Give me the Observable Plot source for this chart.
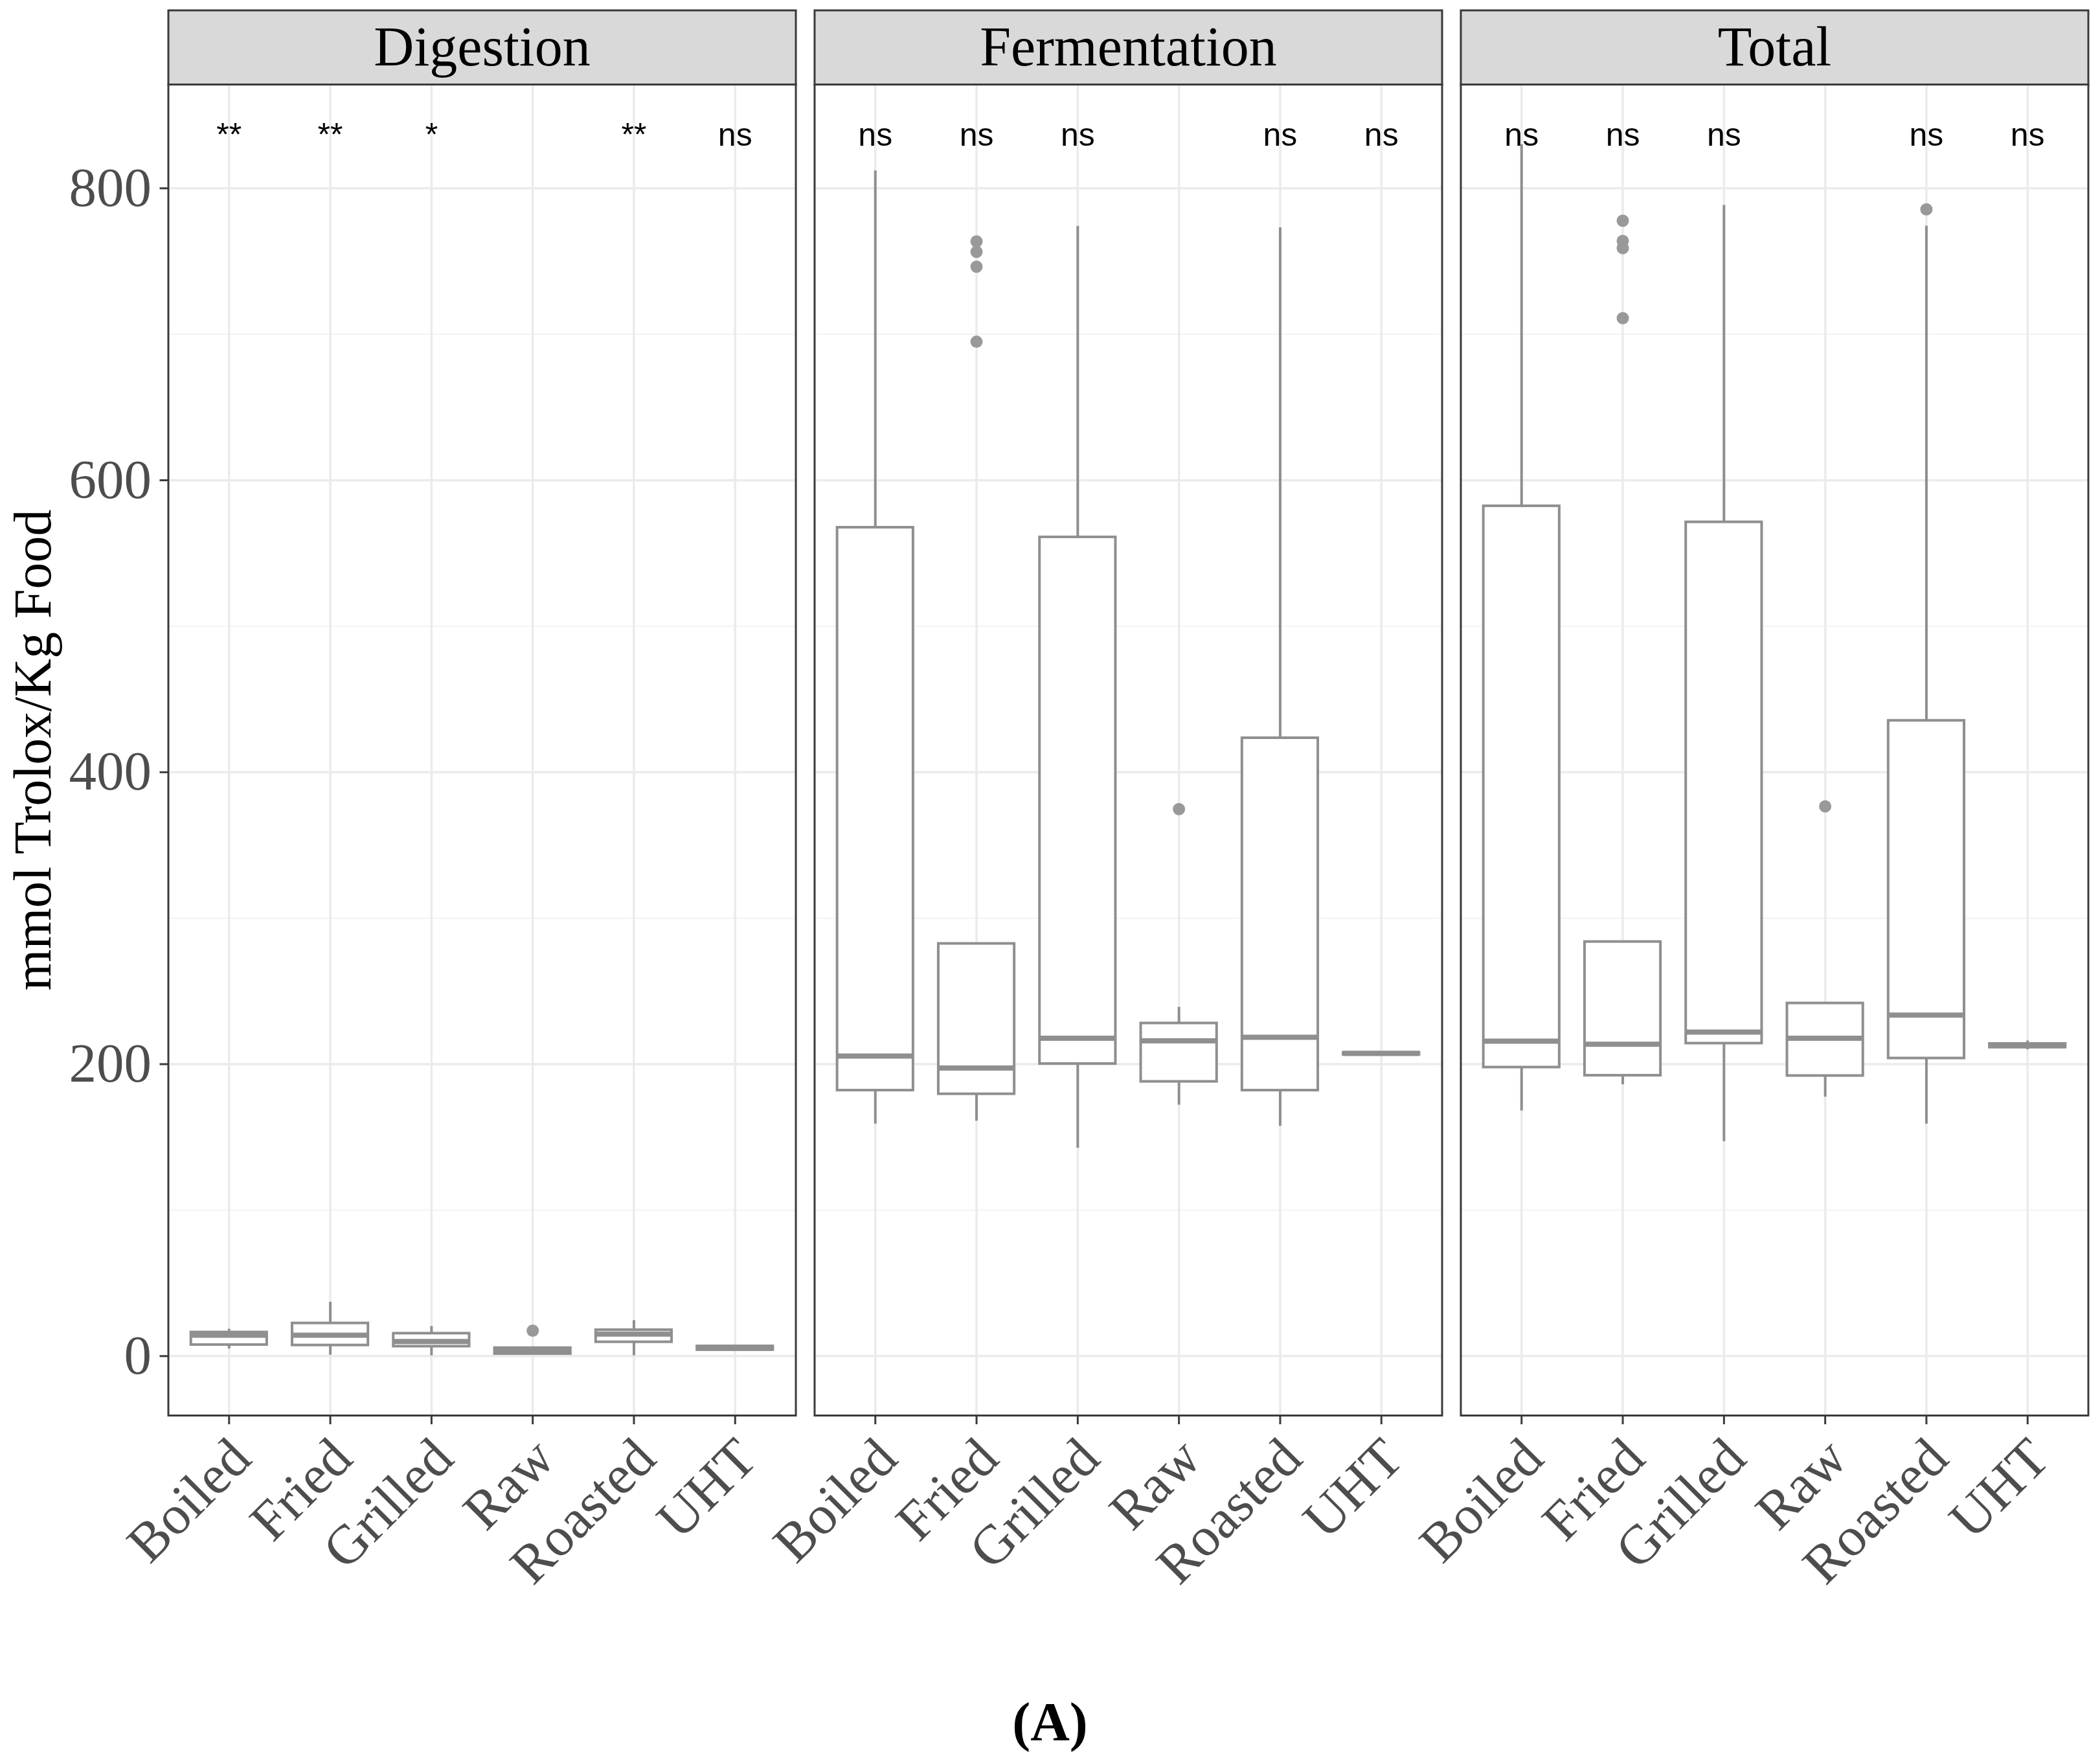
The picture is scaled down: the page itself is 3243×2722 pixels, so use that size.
<!DOCTYPE html>
<html><head><meta charset="utf-8">
<script src="https://cdn.jsdelivr.net/npm/d3@7"></script>
<script src="https://cdn.jsdelivr.net/npm/@observablehq/plot@0.6"></script>
<style>
html,body{margin:0;padding:0;background:#fff;}
#chart svg{display:block;}
#caption{margin-top:53px;text-align:center;font:bold 84px "Liberation Serif",serif;line-height:92px;color:#000;}
</style></head><body>
<div id="chart"></div>
<div id="caption">(A)</div>
<script>
// ---------- data ----------
const panels = ["Digestion", "Fermentation", "Total"];
const categories = ["Boiled", "Fried", "Grilled", "Raw", "Roasted", "UHT"];
const yTicks = [0, 200, 400, 600, 800];
const yMinorTicks = [100, 300, 500, 700];
const yTitle = "mmol Trolox/Kg Food";

// Digestion
const digestionLow    = [5.0, 0.7, 0.3, 1.2, 0.3, 4.0];
const digestionQ1     = [7.7, 7.4, 6.6, 1.5, 9.6, 4.2];
const digestionMedian = [14.3, 14.3, 10.0, 3.5, 15.1, 5.5];
const digestionQ3     = [16.3, 22.5, 15.5, 5.6, 17.9, 6.8];
const digestionHigh   = [18.5, 37.0, 20.4, 5.6, 24.4, 6.9];
const digestionOutliers = [["Raw", 17.4]];
const digestionSig = ["**", "**", "*", "", "**", "ns"];

// Fermentation
const fermentationLow    = [159, 161, 142.5, 172, 157.5, 206];
const fermentationQ1     = [182, 179.5, 200.2, 188, 182, 206.5];
const fermentationMedian = [205.5, 197.3, 217.7, 216, 218.4, 207.3];
const fermentationQ3     = [567.6, 282.5, 561, 228, 423.4, 208];
const fermentationHigh   = [812, 282.5, 774, 239, 773, 208.5];
const fermentationOutliers = [["Fried", 763.6], ["Fried", 756.5], ["Fried", 746.3], ["Fried", 694.9], ["Raw", 374.7]];
const fermentationSig = ["ns", "ns", "ns", "", "ns", "ns"];

// Total
const totalLow    = [168, 186, 147, 177.5, 159, 210];
const totalQ1     = [197.8, 192.2, 214.2, 192, 204, 211.5];
const totalMedian = [215.8, 213.6, 222, 217.7, 233.6, 212.7];
const totalQ3     = [582.3, 283.8, 571.3, 241.7, 435.3, 214];
const totalHigh   = [830, 283.8, 788.3, 241.7, 774.2, 216];
const totalOutliers = [["Fried", 777.8], ["Fried", 764], ["Fried", 759], ["Fried", 711], ["Raw", 376.6], ["Roasted", 785.6]];
const totalSig = ["ns", "ns", "ns", "", "ns", "ns"];

// ---------- tables built from the arrays ----------
const series = {
  Digestion:    {lo: digestionLow, q1: digestionQ1, med: digestionMedian, q3: digestionQ3, hi: digestionHigh, out: digestionOutliers, sig: digestionSig},
  Fermentation: {lo: fermentationLow, q1: fermentationQ1, med: fermentationMedian, q3: fermentationQ3, hi: fermentationHigh, out: fermentationOutliers, sig: fermentationSig},
  Total:        {lo: totalLow, q1: totalQ1, med: totalMedian, q3: totalQ3, hi: totalHigh, out: totalOutliers, sig: totalSig}
};
const boxes = [], outliers = [], sigs = [];
for (const p of panels) {
  const s = series[p];
  categories.forEach((c, i) => {
    boxes.push({panel: p, cat: c, lo: s.lo[i], q1: s.q1[i], med: s.med[i], q3: s.q3[i], hi: s.hi[i]});
    if (s.sig[i]) sigs.push({panel: p, cat: c, label: s.sig[i]});
  });
  for (const [c, v] of s.out) outliers.push({panel: p, cat: c, value: v});
}

// ---------- style ----------
const W = 3243, H = 2560;
const mTop = 130, mBottom = 375, mLeft = 259.5, mRight = 18.5;
const frameH = H - mTop - mBottom;
const serif = "Liberation Serif, Times New Roman, serif";
const sans = "Liberation Sans, Arial, sans-serif";
const boxColor = "#8f8f8f";
const border = "#3a3a3a";
const gridMajor = "#ebebeb";
const gridMinor = "#f3f3f3";

const chart = Plot.plot({
  width: W,
  height: H,
  marginTop: mTop,
  marginBottom: mBottom,
  marginLeft: mLeft,
  marginRight: mRight,
  style: {background: "#fff", fontFamily: serif},
  fx: {domain: panels, paddingInner: 0.029, paddingOuter: 0, round: false, axis: null, label: null},
  x: {domain: categories, paddingInner: 0.25, paddingOuter: 0.225, round: false, axis: null, label: null},
  y: {domain: [-40.7, 871.1], axis: null, label: null},
  marks: [
    // strip background
    Plot.frame({fill: "#d9d9d9", stroke: border, strokeWidth: 3, insetTop: -114.5, insetBottom: frameH}),
    // grid
    Plot.ruleY(yMinorTicks, {stroke: gridMinor, strokeWidth: 2}),
    Plot.ruleY(yTicks, {stroke: gridMajor, strokeWidth: 3.5}),
    Plot.ruleX(categories, {x: d => d, stroke: gridMajor, strokeWidth: 3.5}),
    // whiskers
    Plot.ruleX(boxes, {fx: "panel", x: "cat", y1: "q3", y2: "hi", stroke: boxColor, strokeWidth: 4}),
    Plot.ruleX(boxes, {fx: "panel", x: "cat", y1: "lo", y2: "q1", stroke: boxColor, strokeWidth: 4}),
    // boxes
    Plot.barY(boxes, {fx: "panel", x: "cat", y1: "q1", y2: "q3", fill: "#fff", stroke: boxColor, strokeWidth: 4}),
    // medians
    Plot.tickY(boxes, {fx: "panel", x: "cat", y: "med", stroke: boxColor, strokeWidth: 8}),
    // outliers
    Plot.dot(outliers, {fx: "panel", x: "cat", y: "value", r: 9.5, fill: "#999", stroke: null}),
    // significance labels
    Plot.text(sigs, {fx: "panel", x: "cat", text: "label", frameAnchor: "top", dy: 94.5, lineAnchor: "bottom",
      textAnchor: "middle", fontFamily: sans, fontSize: 50, fill: "#000"}),
    // panel border
    Plot.frame({stroke: border, strokeWidth: 3}),
    // strip labels
    Plot.text(panels, {fx: d => d, text: d => d, frameAnchor: "top", dy: -57, lineAnchor: "middle", textAnchor: "middle",
      fontFamily: serif, fontSize: 86, fill: "#000"}),
    // y axis (left-most facet only)
    Plot.axisY({ticks: yTicks, tickSize: 13, tickPadding: 13, stroke: border, strokeWidth: 3,
      fill: "#4d4d4d", fontSize: 85, fontFamily: serif, label: null}),
    // x ticks
    Plot.axisX({tickSize: 14, stroke: border, strokeWidth: 3, tickFormat: () => "", label: null}),
    // x tick labels
    Plot.text(categories, {x: d => d, text: d => d, frameAnchor: "bottom", rotate: -45, textAnchor: "end",
      lineAnchor: "top", dx: -5, dy: 28, fontFamily: serif, fontSize: 85, fill: "#4d4d4d"}),
    // y title
    Plot.text([yTitle], {fx: () => panels[0], text: d => d, frameAnchor: "left", rotate: -90, lineAnchor: "bottom",
      textAnchor: "middle", dx: -182, fontFamily: serif, fontSize: 82, fill: "#000"})
  ]
});
document.getElementById("chart").appendChild(chart);
</script>
</body></html>
